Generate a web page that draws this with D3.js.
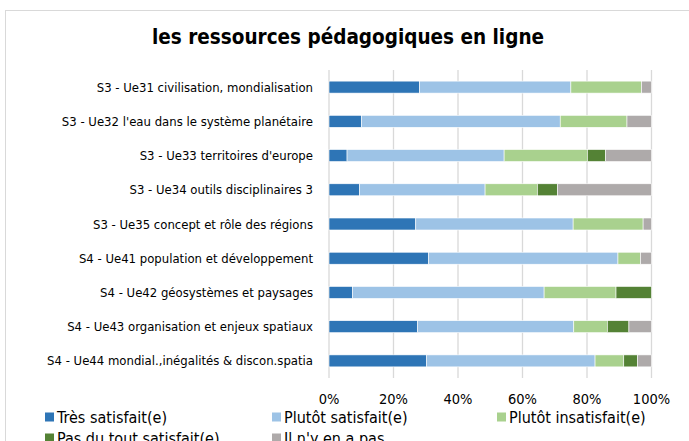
<!DOCTYPE html>
<html>
<head>
<meta charset="utf-8">
<script src="https://cdn.jsdelivr.net/npm/d3@7"></script>
<style>
  body { margin: 0; background: #fff; }
  text { font-family: "DejaVu Sans Condensed", "DejaVu Sans", sans-serif; fill: #000; }
</style>
</head>
<body>
<svg id="chart"></svg>
<script>
const categories = [
  'S3 - Ue31 civilisation, mondialisation',
  'S3 - Ue32 l\'eau dans le système planétaire',
  'S3 - Ue33 territoires d\'europe',
  'S3 - Ue34 outils disciplinaires 3',
  'S3 - Ue35 concept et rôle des régions',
  'S4 - Ue41 population et développement',
  'S4 - Ue42 géosystèmes et paysages',
  'S4 - Ue43 organisation et enjeux spatiaux',
  'S4 - Ue44 mondial.,inégalités & discon.spatia'
];
const seriesNames = ['Très satisfait(e)', 'Plutôt satisfait(e)', 'Plutôt insatisfait(e)', 'Pas du tout satisfait(e)', 'Il n\'y en a pas'];
const tresSatisfait = [28.1, 10.1, 5.6, 9.5, 26.9, 30.9, 7.3, 27.5, 30.3];
const plutotSatisfait = [46.9, 61.6, 48.7, 38.9, 48.8, 58.7, 59.4, 48.4, 52.2];
const plutotInsatisfait = [21.9, 20.7, 25.8, 16.2, 21.7, 7.0, 22.3, 10.4, 8.9];
const pasDuTout = [0, 0, 5.7, 6.3, 0, 0, 11.0, 6.7, 4.3];
const ilNyEnAPas = [3.1, 7.6, 14.2, 29.1, 2.6, 3.4, 0, 7.0, 4.3];
const tickValues = [0, 20, 40, 60, 80, 100];
const colors = ['#2e75b6', '#9dc3e6', '#a9d18e', '#548235', '#aeaaaa'];

const width = 689, height = 441;
const svg = d3.select('#chart').attr('width', width).attr('height', height);

// chart frame
svg.append('rect')
    .attr('x', 5.5).attr('y', 10.5)
    .attr('width', 700).attr('height', 500)
    .attr('fill', '#fff').attr('stroke', '#d9d9d9');

svg.append('text')
    .attr('x', 348).attr('y', 37)
    .attr('dy', '0.35em')
    .attr('text-anchor', 'middle')
    .style('font-size', '20.5px').style('font-weight', 'bold')
    .text('les ressources pédagogiques en ligne');

const rows = categories.map((c, i) => ({
  cat: c,
  values: [tresSatisfait[i], plutotSatisfait[i], plutotInsatisfait[i], pasDuTout[i], ilNyEnAPas[i]]
}));

const x = d3.scaleLinear().domain([0, 100]).range([329, 651.5]);
const y = d3.scaleBand().domain(categories).range([70, 378]).paddingInner(0.65).paddingOuter(0.325);

// gridlines
svg.append('g').selectAll('line')
    .data(tickValues)
    .join('line')
    .attr('x1', (d) => x(d)).attr('x2', (d) => x(d))
    .attr('y1', 70).attr('y2', 378)
    .attr('stroke', '#d9d9d9').attr('stroke-width', 1.3);

// stacked bars
const stackData = rows.map((r) => {
  let acc = 0;
  return r.values.map((v, k) => {
    const seg = {cat: r.cat, k: k, x0: acc, x1: acc + v};
    acc += v;
    return seg;
  });
}).flat().filter((d) => d.x1 > d.x0);

svg.append('g').selectAll('rect')
    .data(stackData)
    .join('rect')
    .attr('x', (d) => x(d.x0))
    .attr('width', (d) => x(d.x1) - x(d.x0))
    .attr('y', (d) => y(d.cat))
    .attr('height', y.bandwidth())
    .attr('fill', (d) => colors[d.k])
    .attr('stroke', '#fff').attr('stroke-width', 0.6);

// category labels
svg.append('g').selectAll('text')
    .data(categories)
    .join('text')
    .attr('x', 313)
    .attr('y', (d) => y(d) + y.bandwidth() / 2)
    .attr('dy', '0.35em')
    .attr('text-anchor', 'end')
    .style('font-size', '13px')
    .text((d) => d);

// x axis labels
svg.append('g').selectAll('text')
    .data(tickValues)
    .join('text')
    .attr('x', (d) => x(d))
    .attr('y', 399)
    .attr('dy', '0.35em')
    .attr('text-anchor', 'middle')
    .style('font-size', '14.5px')
    .text((d) => d + '%');

// legend
const legendPos = [[45, 417], [272, 417], [497, 417], [45, 438], [272, 438]];
const legend = svg.append('g').selectAll('g')
    .data(seriesNames)
    .join('g')
    .attr('transform', (d, i) => 'translate(' + legendPos[i] + ')');
legend.append('rect')
    .attr('x', 0).attr('y', -4.5).attr('width', 9).attr('height', 9)
    .attr('fill', (d, i) => colors[i]);
legend.append('text')
    .attr('x', 12).attr('y', 0).attr('dy', '0.35em')
    .style('font-size', '16px')
    .text((d) => d);
</script>
</body>
</html>
